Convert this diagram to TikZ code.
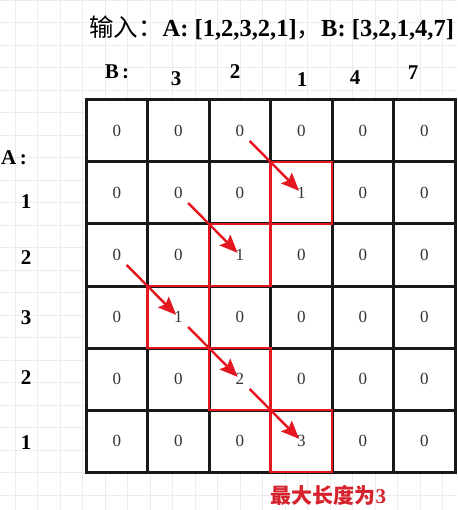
\documentclass[tikz,border=0pt]{standalone}
\usepackage{fontspec}
\setmainfont{Liberation Serif}
\newfontfamily\cjk{Noto Sans CJK SC}
\usepackage{xcolor}
\usetikzlibrary{positioning,arrows.meta}
\definecolor{hitred}{RGB}{228,22,32}
\definecolor{notered}{RGB}{214,34,44}
\definecolor{cellgray}{RGB}{51,51,51}
\definecolor{paper}{RGB}{236,236,236}

\begin{document}
\begin{tikzpicture}[x=1pt, y=-1pt, node distance = 0pt]
            \tikzstyle{cell} = [draw=black!90, line width=3pt, fill=white, minimum width=61.5pt, minimum height=62pt, outer sep=0pt, inner sep=0pt, text=cellgray, font=\fontsize{17}{17}\selectfont];
            \tikzstyle{hitbox} = [draw=hitred, line width=2.4pt];
            \tikzstyle{hitarrow} = [hitred, line width=2.4pt, -{Stealth[length=18pt, width=15pt, inset=3pt]}, shorten <=14pt, shorten >=3pt];
            \tikzstyle{headnum} = [inner sep=0pt, font=\bfseries\fontsize{21}{21}\selectfont];
            \useasboundingbox (0,0) rectangle (457,510);
            \fill[white] (0,0) rectangle (457,510);
            \draw[paper, line width=0.8pt, xshift=15pt] (-15,0) grid[step=22.5pt] (442,510);

            \node [anchor=west, inner sep=0pt, font=\fontsize{24.5}{24.5}\selectfont] (title) at (89,28) {{\cjk 输入：}\textbf{A: [1,2,3,2,1]}{\cjk ，}\textbf{B: [3,2,1,4,7]}};

            \foreach \r/\row in {0/{0,0,0,0,0,0}, 1/{0,0,0,1,0,0}, 2/{0,0,1,0,0,0}, 3/{0,1,0,0,0,0}, 4/{0,0,2,0,0,0}, 5/{0,0,0,3,0,0}}
                \foreach \v [count=\c from 0] in \row
                    \node [cell] (c\r\c) at ({86+61.5*(\c+0.5)},{100+62*(\r+0.5)}) {\v};

            \node [headnum] (B) at (117,72) {B\,:};
            \node [headnum] (B0) at (176,79) {3};
            \node [headnum] (B1) at (235,72) {2};
            \node [headnum] (B2) at (302,80) {1};
            \node [headnum] (B3) at (355,78) {4};
            \node [headnum] (B4) at (413,73) {7};

            \node [headnum, anchor=west] (A) at (1,158) {A\,:};
            \node [headnum] (A1) at (26,202) {1};
            \node [headnum] (A2) at (26,258) {2};
            \node [headnum] (A3) at (26,318) {3};
            \node [headnum] (A4) at (26,378) {2};
            \node [headnum] (A5) at (26,443) {1};

            \foreach \n in {c13,c22,c31,c42,c53}
                \draw [hitbox] (\n.north west) rectangle (\n.south east);

            \foreach \a/\b in {c02/c13, c11/c22, c20/c31, c31/c42, c42/c53}
                \draw [hitarrow] (\a.center) -- (\b.center);

            \node [below right = 13pt and 0pt of c53.south west, inner sep=0pt, text=notered, font=\bfseries\fontsize{21}{21}\selectfont] (maxlen) {{\cjk 最大长度为}3};
        \end{tikzpicture}
\end{document}
